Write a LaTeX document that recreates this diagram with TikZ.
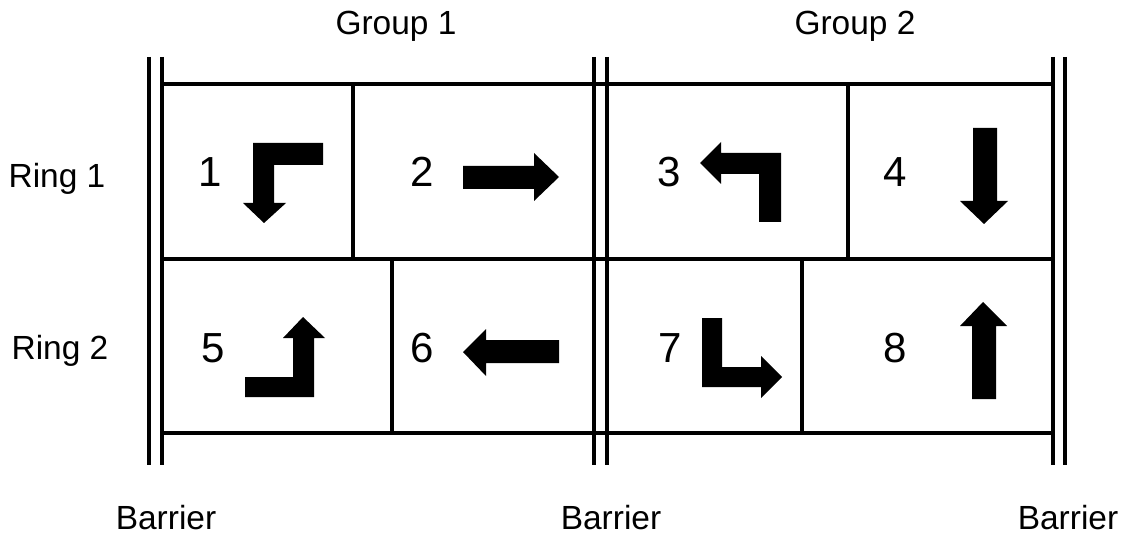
\documentclass[tikz,border=0pt]{standalone}
\usepackage{fontspec}
\setmainfont{Liberation Sans}
\begin{document}
\begin{tikzpicture}[
    x=0.025cm, y=-0.025cm,
    label/.style={font=\fontsize{23.8}{28}\selectfont, anchor=base, inner sep=0pt},
    num/.style={font=\fontsize{29.9}{34}\selectfont, anchor=base, inner sep=0pt},
    grid/.style={line width=2.2pt},
    barrierline/.style={line width=2.6pt},
    turn/.style={fill=black, draw=none}
]
\useasboundingbox (0,0) rectangle (1124,537);

% Barriers
\draw[barrierline] (149,57) -- (149,465);
\draw[barrierline] (162,57) -- (162,465);
\draw[barrierline] (594,57) -- (594,465);
\draw[barrierline] (607,57) -- (607,465);
\draw[barrierline] (1053,57) -- (1053,465);
\draw[barrierline] (1065,57) -- (1065,465);

% Rings
\draw[grid] (162,84) -- (1053,84);
\draw[grid] (162,259) -- (1053,259);
\draw[grid] (162,433) -- (1053,433);
\draw[grid] (353,84) -- (353,259);
\draw[grid] (848,84) -- (848,259);
\draw[grid] (392,259) -- (392,433);
\draw[grid] (802,261) -- (802,435);

% Labels
\node[label] (g1) at (396,35) {Group 1};
\node[label] (g2) at (855,35) {Group 2};
\node[label] (r1) at (57,188) {Ring 1};
\node[label] (r2) at (60,359) {Ring 2};
\node[label] (b1) at (166,529) {Barrier};
\node[label] (b2) at (611,529) {Barrier};
\node[label] (b3) at (1068,529) {Barrier};

% Phases
\node[num] (p1) at (210,187) {1};
\node[num] (p2) at (422,187) {2};
\node[num] (p3) at (669,187) {3};
\node[num] (p4) at (895,187) {4};
\node[num] (p5) at (213,362) {5};
\node[num] (p6) at (422,362) {6};
\node[num] (p7) at (670,362) {7};
\node[num] (p8) at (895,362) {8};

% Movement arrows
\fill[turn] (323,143) -- (253,143) -- (253,203) -- (243,203) -- (264,223) -- (286,203) -- (274,203) -- (274,165) -- (323,165) -- cycle;
\fill[turn] (463,166) -- (534,166) -- (534,153) -- (559,177) -- (534,201) -- (534,189) -- (463,189) -- cycle;
\fill[turn] (700,163) -- (721,142) -- (721,153) -- (781,153) -- (781,222) -- (759,222) -- (759,174) -- (721,174) -- (721,184) -- cycle;
\fill[turn] (973,128) -- (997,128) -- (997,201) -- (1008,201) -- (984,224) -- (960,201) -- (973,201) -- cycle;
\fill[turn] (245,377) -- (293,377) -- (293,338) -- (283,338) -- (303,317) -- (325,338) -- (314,338) -- (314,397) -- (245,397) -- cycle;
\fill[turn] (463,352) -- (486,329) -- (486,340) -- (559,340) -- (559,363) -- (486,363) -- (486,376) -- cycle;
\fill[turn] (702,318) -- (722,318) -- (722,367) -- (761,367) -- (761,356) -- (782,377) -- (761,398) -- (761,387) -- (702,387) -- cycle;
\fill[turn] (972,399) -- (996,399) -- (996,326) -- (1007,326) -- (983,302) -- (960,326) -- (972,326) -- cycle;
\end{tikzpicture}
\end{document}
